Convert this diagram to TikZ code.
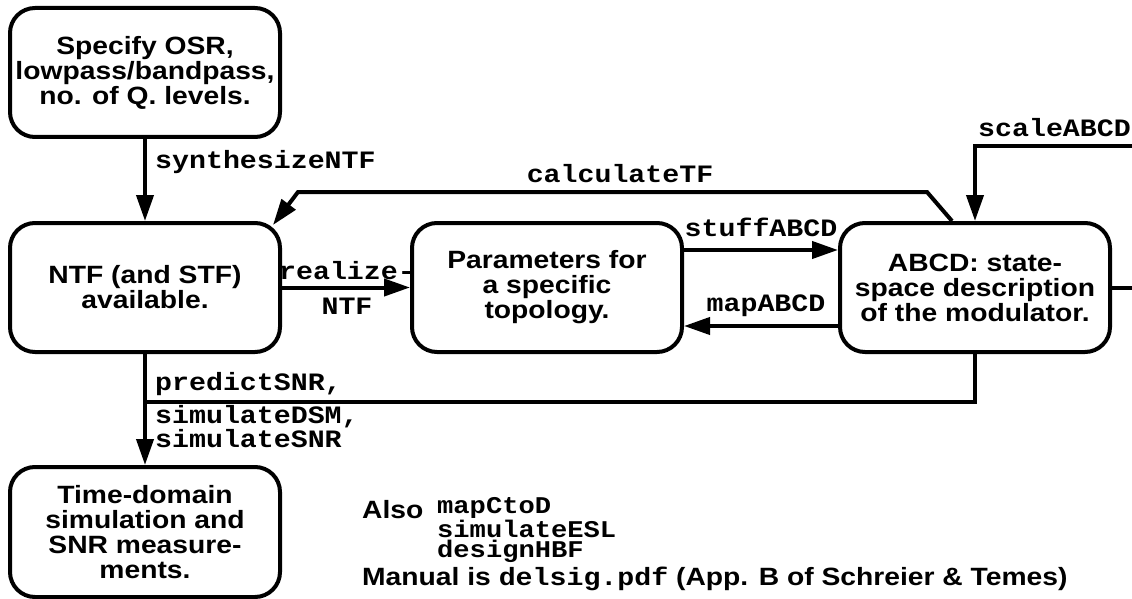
\documentclass[tikz,border=0pt]{standalone}
\usepackage{fontspec}
\usetikzlibrary{arrows.meta,calc}
\newfontfamily\boxfont[FakeStretch=1.13]{Liberation Sans}
\newfontfamily\codefont[FakeStretch=1.13]{Liberation Mono}
\newcommand\boxtext{\boxfont\bfseries\fontsize{25}{25}\selectfont}
\newcommand\codetext{\codefont\bfseries\fontsize{25}{24}\selectfont}
\newcommand\listtext{\codefont\bfseries\fontsize{24}{20}\selectfont}
\tikzset{
  box/.style={draw, line width=4pt, rounded corners=25pt,
    minimum width=270pt, minimum height=129pt, inner sep=0pt,
    align=center, font=\boxtext},
  conn/.style={line width=4pt},
  arr/.style={conn, -{Triangle[length=26pt,width=17pt]}},
  lbl/.style={font=\codetext, inner sep=0pt, anchor=base west},
  clbl/.style={font=\codetext, inner sep=0pt, anchor=base},
  note/.style={font=\boxtext, inner sep=0pt, anchor=base west},
}
\begin{document}
\begin{tikzpicture}[x=1pt, y=-1pt]
\useasboundingbox (0,0) rectangle (1132,599);

% boxes
\node[box] (spec) at (145,72.5) {Specify OSR,\\lowpass/bandpass,\\no. of Q. levels.};
\node[box] (ntf)  at (145,287.5) {NTF (and STF)\\available.};
\node[box] (par)  at (547,287.5) {Parameters for\\a specific\\topology.};
\node[box] (abcd) at (975,287.5) {ABCD: state-\\space description\\of the modulator.};
\node[box, minimum height=130pt] (sim) at (145,532) {Time-domain\\simulation and\\SNR measure-\\ments.};

% loose ends at the right border
\coordinate (outR) at (1140,287.5);
\coordinate (inR)  at (1140,146);
\coordinate (tfTip) at ($(ntf.north east)+(-9,4)$);

% synthesizeNTF
\draw[arr] (spec) -- (ntf);
\node[lbl] (lsyn) at (155,168) {synthesizeNTF};

% calculateTF
\draw[arr] ($(abcd.north)+(-23,0)$) -- (927,192) -- (298,192) -- (tfTip);
\node[clbl] (lcalc) at (620,182) {calculateTF};

% realizeNTF
\draw[arr] (ntf) -- (par);
\node[clbl] (lreal1) at (347,279) {realize-};
\node[clbl] (lreal2) at (347,314) {NTF};

% stuffABCD / mapABCD
\draw[arr] (par.east |- 0,250) -- (abcd.west |- 0,250);
\node[clbl] (lstuff) at (761,236) {stuffABCD};
\draw[arr] (abcd.west |- 0,326) -- (par.east |- 0,326);
\node[clbl] (lmap) at (766,311) {mapABCD};

% scaleABCD
\draw[arr] (inR) -- (abcd.north |- inR) -- (abcd.north);
\node[lbl] (lscale) at (978,137) {scaleABCD};
\draw[conn] (abcd.east) -- (outR);

% simulation
\draw[arr] (ntf) -- (sim);
\draw[conn] (abcd.south) -- (abcd.south |- 0,402) -- (ntf.south |- 0,402);
\node[lbl] (lpred) at (155,390) {predictSNR,};
\node[lbl] (lsimd) at (155,423) {simulateDSM,};
\node[lbl] (lsims) at (155,447) {simulateSNR};

% notes
\node[note] (also) at (362,518) {Also};
\node[lbl, align=left, font=\listtext] (funcs) at (437,557) {mapCtoD\\simulateESL\\designHBF};
\node[note] (manual) at (362,585) {Manual is {\codetext delsig.pdf} (App. B of Schreier \& Temes)};
\end{tikzpicture}
\end{document}
